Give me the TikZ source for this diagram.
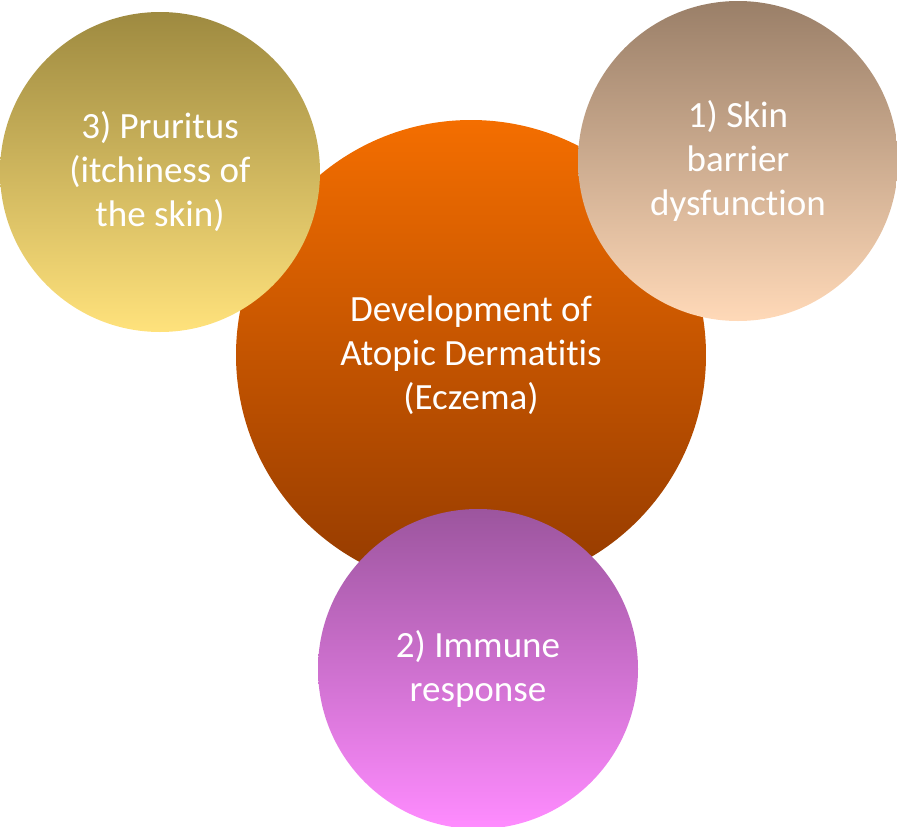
\documentclass[tikz,border=0pt]{standalone}
\usepackage{fontspec}
\setmainfont{Carlito}[Ligatures={NoCommon,NoRare}, Contextuals=NoAlternate]
\tikzset{
  blob/.style={circle, inner sep=0pt, align=center, text=white,
    font=\fontsize{37}{44}\selectfont},
  mainblob/.style={blob, minimum size=470pt, top color=centertop, bottom color=centerbot},
  sideblob/.style={blob, minimum size=320pt}
}
\definecolor{centertop}{HTML}{F46E00}
\definecolor{centerbot}{HTML}{933A00}
\definecolor{yeltop}{HTML}{9E8A40}
\definecolor{yelbot}{HTML}{FFE27C}
\definecolor{skintop}{HTML}{9A7F68}
\definecolor{skinbot}{HTML}{FFD9B8}
\definecolor{pinktop}{HTML}{9C559E}
\definecolor{pinkbot}{HTML}{FF8CFF}
\begin{document}
\begin{tikzpicture}[x=1pt, y=-1pt]
  \useasboundingbox (0,0) rectangle (897,827);
  \node[mainblob] (ad) at (471,355) {Development of\\Atopic Dermatitis\\(Eczema)};
  % the three factors
  \node[sideblob, top color=yeltop, bottom color=yelbot] (prur) at (160,172) {3) Pruritus\\(itchiness of\\the skin)};
  \node[sideblob, top color=skintop, bottom color=skinbot] (skin) at (738,161) {1) Skin\\barrier\\dysfunction};
  \node[sideblob, top color=pinktop, bottom color=pinkbot] (imm) at (478,669) {2) Immune\\response};
\end{tikzpicture}
\end{document}
